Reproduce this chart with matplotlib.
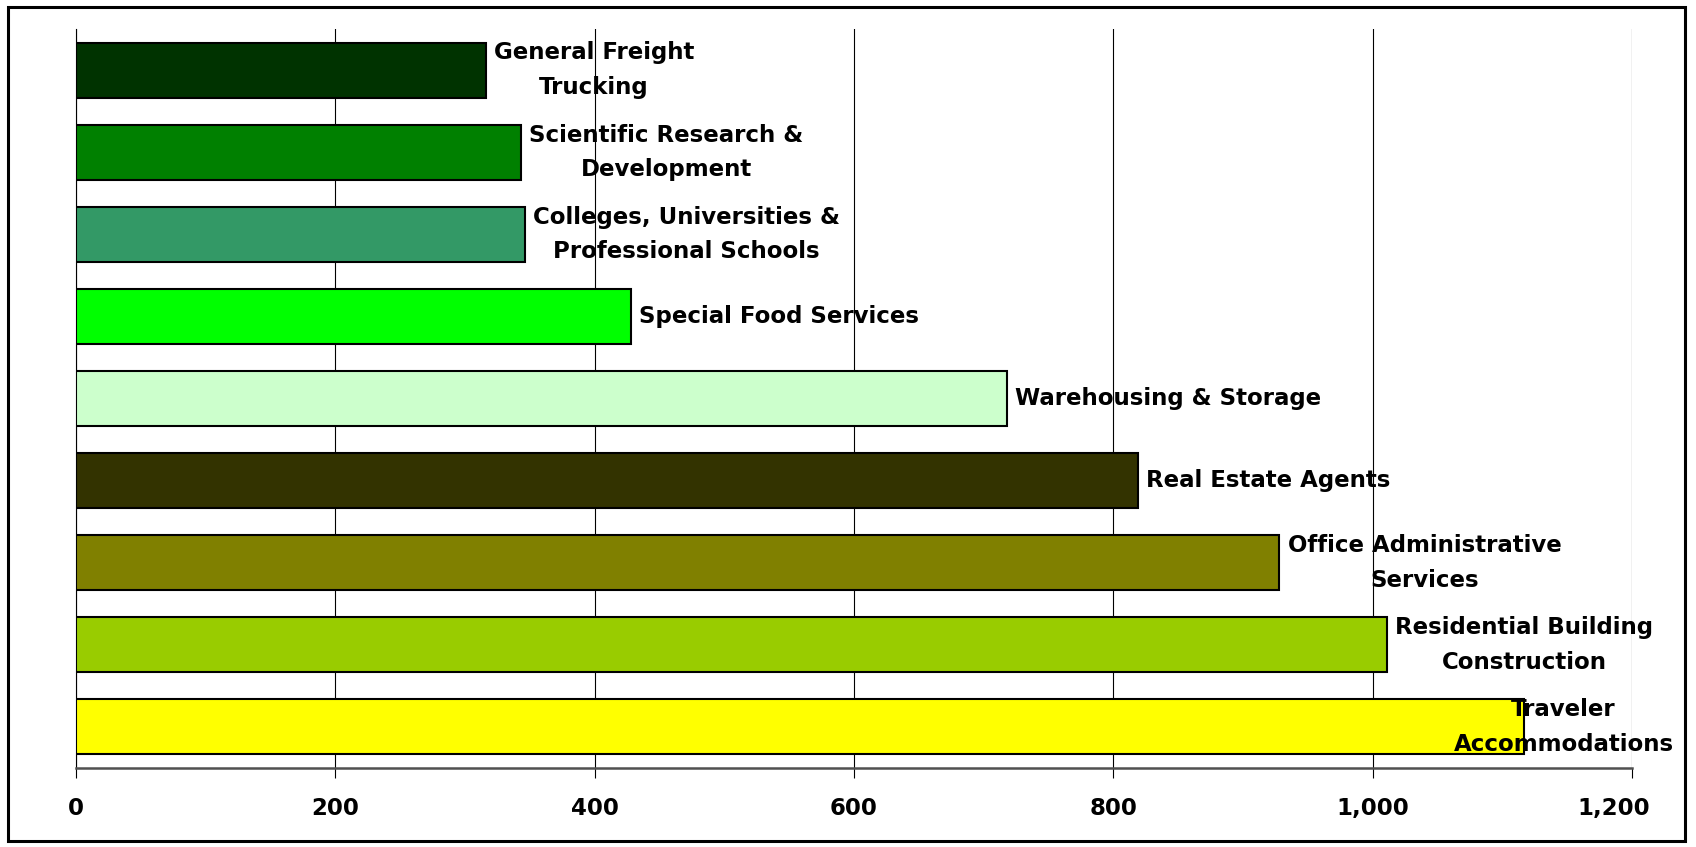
import matplotlib.pyplot as plt
from matplotlib.patches import Rectangle
from matplotlib.transforms import ScaledTranslation

# top to bottom, as in the chart
categories = ["General Freight\nTrucking", "Scientific Research &\nDevelopment",
              "Colleges, Universities &\nProfessional Schools", "Special Food Services",
              "Warehousing & Storage", "Real Estate Agents",
              "Office Administrative\nServices", "Residential Building\nConstruction",
              "Traveler\nAccommodations"]
values = [316, 343, 346, 428, 718, 819, 928, 1011, 1117]
colors = ["#003300", "#008000", "#339966", "#00FF00", "#CCFFCC",
          "#333300", "#808000", "#99CC00", "#FFFF00"]
xticks = [0, 200, 400, 600, 800, 1000, 1200]
xticklabels = ["0", "200", "400", "600", "800", "1,000", "1,200"]

plt.rcParams['font.family'] = ['DejaVu Sans']

fig = plt.figure(figsize=(16.96, 8.47), dpi=100)
ax = fig.add_axes([0.0447, 0.0933, 0.9176, 0.8721])

n = len(values)
ypos = list(range(n - 1, -1, -1))
ax.barh(ypos, values, height=0.67, color=colors, edgecolor='black', linewidth=1.5, zorder=3)

fs = 16.5
# labels beside bars
for i, (y, v, lab) in enumerate(zip(ypos, values, categories)):
    if i == n - 1:
        # last one would run past the plot edge, pull it back in
        ax.annotate(lab, xy=(1.0, y), xycoords=('axes fraction', 'data'),
                    xytext=(30, 0), textcoords='offset points',
                    ha='right', va='center', multialignment='center',
                    fontsize=fs, fontweight='bold', linespacing=1.65, zorder=4)
    else:
        ax.annotate(lab, xy=(v, y), xytext=(6, 0), textcoords='offset points',
                    ha='left', va='center', multialignment='center',
                    fontsize=fs, fontweight='bold', linespacing=1.65, zorder=4)

ax.set_xlim(0, 1200)
ax.set_ylim(-0.5, n - 0.5)
ax.set_xticks(xticks)
ax.set_xticklabels(xticklabels, fontsize=fs, fontweight='bold')
ax.set_yticks([])
ax.grid(axis='x', color='black', linewidth=0.8, zorder=0)
ax.tick_params(axis='x', direction='out', length=7, width=0.8, pad=14)

# last tick label sits a little left of its tick
lastlab = ax.get_xticklabels()[-1]
lastlab.set_transform(lastlab.get_transform() + ScaledTranslation(-0.18, 0, fig.dpi_scale_trans))

for s in ['top', 'right']:
    ax.spines[s].set_visible(False)
ax.spines['left'].set_linewidth(0.8)
ax.spines['bottom'].set_color('#505050')
ax.spines['bottom'].set_linewidth(1.8)

# outer frame around the whole figure
fig.patches.append(Rectangle((0.0047, 0.0071), 0.9888, 0.9847, transform=fig.transFigure,
                             fill=False, edgecolor='black', linewidth=2.2))

fig.savefig('out.png', dpi=100)
